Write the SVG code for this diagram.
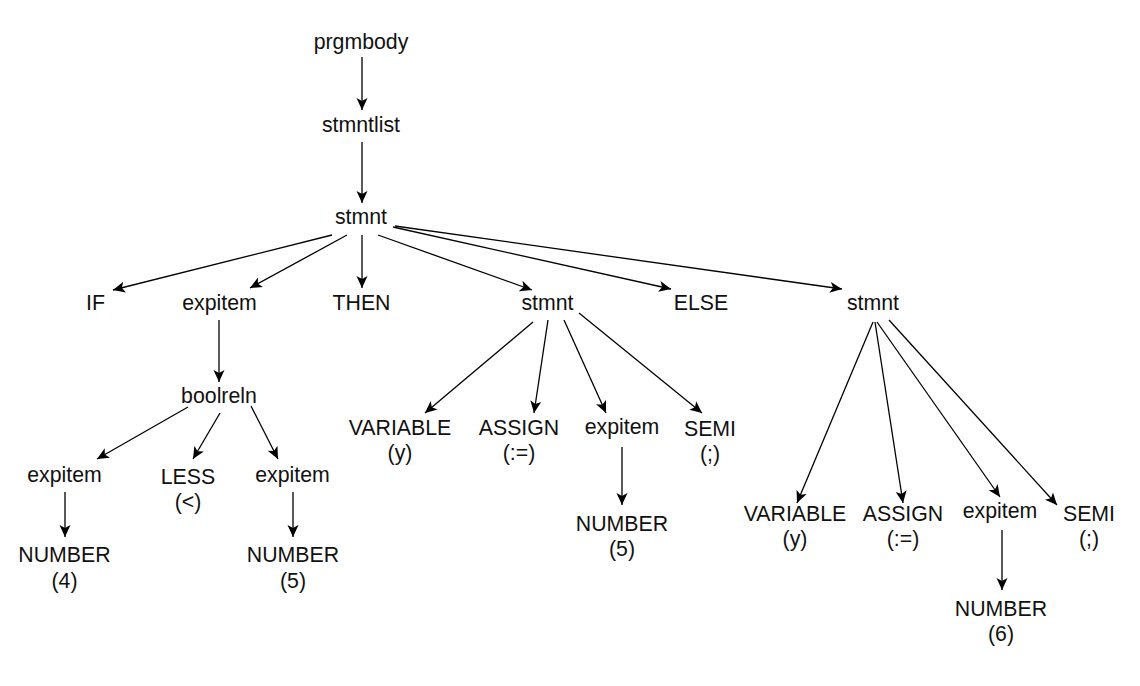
<svg xmlns="http://www.w3.org/2000/svg" width="1140" height="686" viewBox="0 0 1140 686">
<style>
  text { font-family: "Liberation Sans", Arial, Helvetica, sans-serif; font-size: 21.3px; fill: #111; text-anchor: middle; }
  .edge { stroke: #000; stroke-width: 1.3; fill: none; marker-end: url(#arrow); }
</style>
<defs>
  <marker id="arrow" markerUnits="userSpaceOnUse" markerWidth="14" markerHeight="12" viewBox="0 0 14 12" refX="12" refY="6" orient="auto">
    <path d="M0,0.5 L12,6 L0,11.5 L3,6 Z" fill="#000"/>
  </marker>
</defs>
<rect width="1140" height="686" fill="#fff"/>
<g id="connectors">
  <path class="edge" d="M362,57 L362,110"/>
  <path class="edge" d="M362,142 L362,203"/>
  <path class="edge" d="M332,235 L113,290"/>
  <path class="edge" d="M347,235 L250,288"/>
  <path class="edge" d="M362,235 L362,288"/>
  <path class="edge" d="M378,235 L532,290"/>
  <path class="edge" d="M393,227 L671,289"/>
  <path class="edge" d="M395,226 L842,289"/>
  <path class="edge" d="M219,320 L219,382"/>
  <path class="edge" d="M188,407 L97,459"/>
  <path class="edge" d="M220,413 L193,459"/>
  <path class="edge" d="M251,406 L278,459"/>
  <path class="edge" d="M65,492 L65,537"/>
  <path class="edge" d="M293,492 L293,537"/>
  <path class="edge" d="M533,322 L425,413"/>
  <path class="edge" d="M548,320 L534,413"/>
  <path class="edge" d="M564,320 L606,413"/>
  <path class="edge" d="M579,313 L702,413"/>
  <path class="edge" d="M622,447 L622,505"/>
  <path class="edge" d="M873,322 L797,503"/>
  <path class="edge" d="M875,322 L903,503"/>
  <path class="edge" d="M877,322 L1000,497"/>
  <path class="edge" d="M889,320 L1057,505"/>
  <path class="edge" d="M1002,530 L1002,590"/>
</g>
<g id="n-prgmbody"><text x="361" y="49">prgmbody</text></g>
<g id="n-stmntlist"><text x="361" y="132">stmntlist</text></g>
<g id="n-stmnt"><text x="361" y="224">stmnt</text></g>
<g id="n-if"><text x="95.5" y="310">IF</text></g>
<g id="n-expitem1"><text x="219.5" y="310">expitem</text></g>
<g id="n-then"><text x="361.5" y="310">THEN</text></g>
<g id="n-stmnt2"><text x="547.5" y="310">stmnt</text></g>
<g id="n-else"><text x="701" y="310">ELSE</text></g>
<g id="n-stmnt3"><text x="873" y="310">stmnt</text></g>
<g id="n-boolreln"><text x="219" y="403">boolreln</text></g>
<g id="n-expitem2"><text x="64.5" y="482">expitem</text></g>
<g id="n-less"><text x="188" y="484">LESS</text><text x="188" y="509">(&lt;)</text></g>
<g id="n-expitem3"><text x="292.5" y="482">expitem</text></g>
<g id="n-number4"><text x="64.5" y="562">NUMBER</text><text x="64.5" y="588">(4)</text></g>
<g id="n-number5a"><text x="293" y="562">NUMBER</text><text x="293" y="588">(5)</text></g>
<g id="n-variable1"><text x="400" y="435">VARIABLE</text><text x="400" y="460">(y)</text></g>
<g id="n-assign1"><text x="519" y="435">ASSIGN</text><text x="519" y="460">(:=)</text></g>
<g id="n-expitem4"><text x="622" y="434">expitem</text></g>
<g id="n-semi1"><text x="710" y="436">SEMI</text><text x="710" y="461">(;)</text></g>
<g id="n-number5b"><text x="622" y="531">NUMBER</text><text x="622" y="556">(5)</text></g>
<g id="n-variable2"><text x="795" y="521">VARIABLE</text><text x="795" y="546">(y)</text></g>
<g id="n-assign2"><text x="903" y="521">ASSIGN</text><text x="903" y="546">(:=)</text></g>
<g id="n-expitem5"><text x="1000" y="518">expitem</text></g>
<g id="n-semi2"><text x="1089" y="521">SEMI</text><text x="1089" y="546">(;)</text></g>
<g id="n-number6"><text x="1001" y="616">NUMBER</text><text x="1001" y="641">(6)</text></g>
</svg>
